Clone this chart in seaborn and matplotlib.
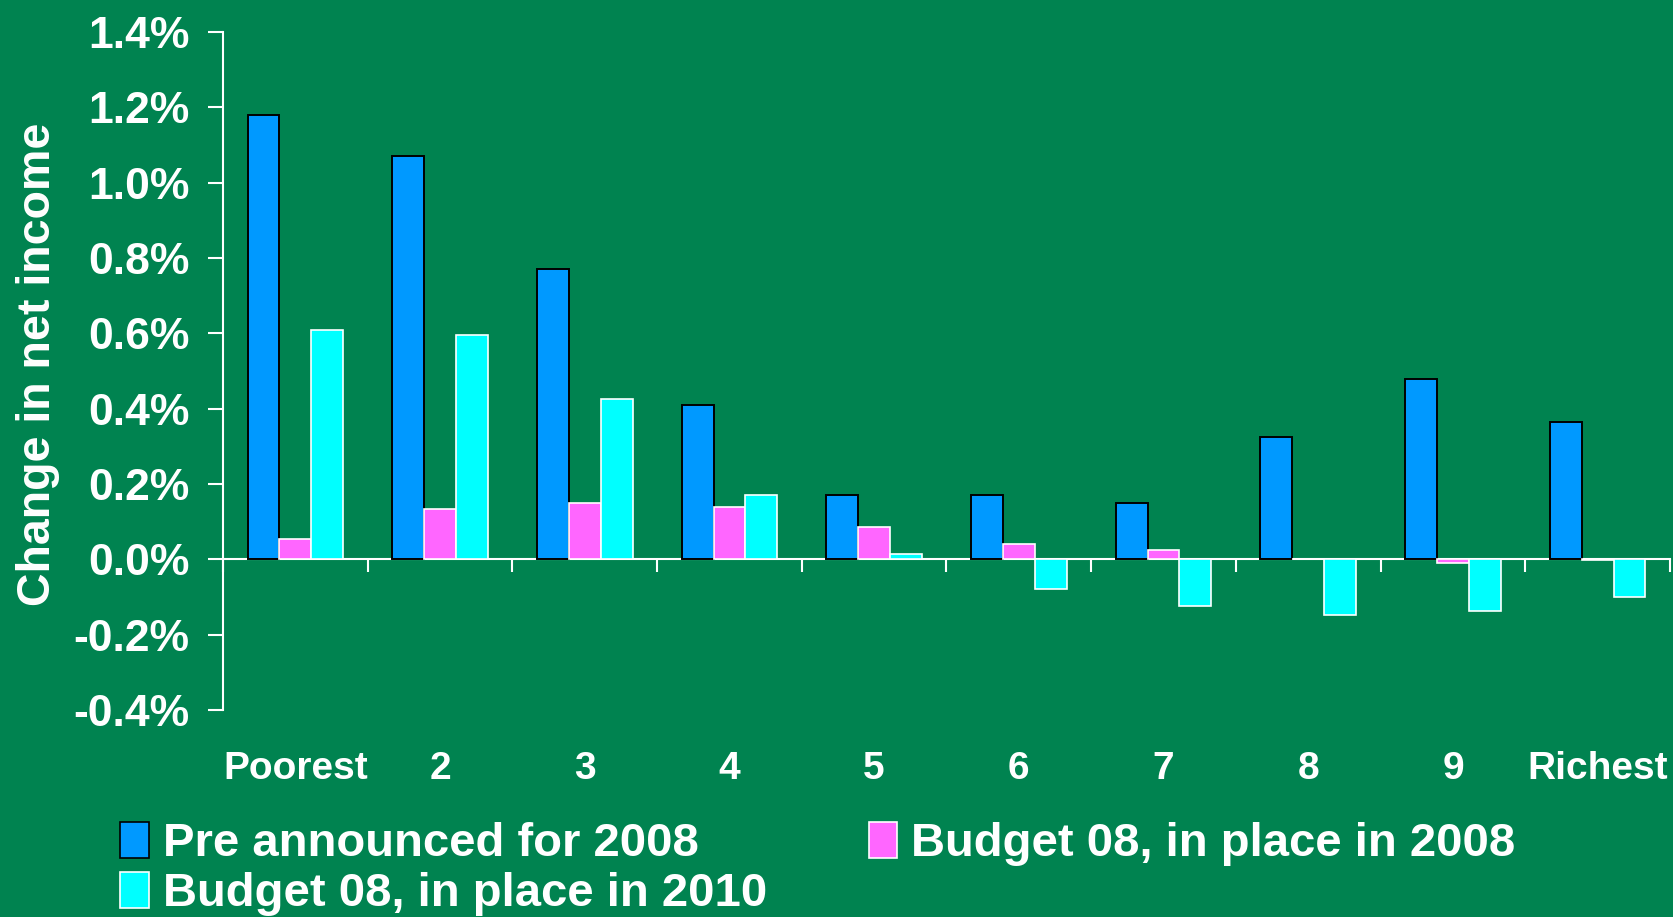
import numpy as np
import pandas as pd
import seaborn as sns
import matplotlib
matplotlib.use('Agg')
import matplotlib.pyplot as plt
from matplotlib.patches import Patch
from matplotlib.ticker import FuncFormatter

# income decile groups
deciles = ['Poorest', '2', '3', '4', '5', '6', '7', '8', '9', 'Richest']
series = ['Pre announced for 2008', 'Budget 08, in place in 2008', 'Budget 08, in place in 2010']

# change in net income (%)
pre_2008 = [1.18, 1.07, 0.77, 0.41, 0.17, 0.17, 0.15, 0.325, 0.48, 0.365]
budget_2008 = [0.055, 0.135, 0.15, 0.14, 0.085, 0.04, 0.025, 0.0, -0.01, -0.003]
budget_2010 = [0.61, 0.595, 0.425, 0.172, 0.015, -0.08, -0.125, -0.148, -0.137, -0.1]

colors = ['#0099FF', '#FF66FF', '#00FFFF']
edges = ['black', 'white', 'white']
bg = '#008350'

df = pd.DataFrame({
    'decile': deciles * 3,
    'change': pre_2008 + budget_2008 + budget_2010,
    'series': [s for s in series for _ in deciles],
})

plt.rcParams['font.family'] = ['Liberation Sans', 'DejaVu Sans']
plt.rcParams['font.weight'] = 'bold'

fig = plt.figure(figsize=(16.73, 9.17), dpi=100, facecolor=bg)
ax = fig.add_axes([0.1333, 0.2257, 0.8649, 0.7394])
ax.set_facecolor(bg)

sns.barplot(data=df, x='decile', y='change', hue='series', palette=colors,
            saturation=1, width=0.66, ax=ax, legend=False, zorder=3)

for cont, ec in zip(ax.containers, edges):
    for bar in cont:
        bar.set_edgecolor(ec)
        bar.set_linewidth(1.4 if ec == 'black' else 1.2)

ax.set_xlim(-0.5, 9.5)
ax.set_ylim(-0.4, 1.4)
ax.set_yticks(np.arange(-0.4, 1.41, 0.2))
ax.yaxis.set_major_formatter(FuncFormatter(lambda v, p: '{:.1f}%'.format(v + 0.0)))

for s in ['top', 'right']:
    ax.spines[s].set_visible(False)
ax.spines['left'].set_color('white')
ax.spines['left'].set_linewidth(1.5)
ax.spines['bottom'].set_position(('data', 0))
ax.spines['bottom'].set_color('white')
ax.spines['bottom'].set_linewidth(1.5)
ax.spines['bottom'].set_zorder(2)

ax.set_xticks(np.arange(-0.5, 10, 1), minor=True)
ax.tick_params(axis='x', which='major', length=0, pad=138, labelsize=28,
               labelcolor='white')
ax.tick_params(axis='x', which='minor', length=9, width=1.5, color='white',
               direction='out')
ax.tick_params(axis='y', length=11, width=1.5, color='white', pad=13,
               labelsize=32, labelcolor='white')
for lab in ax.get_xticklabels() + ax.get_yticklabels():
    lab.set_fontweight('bold')

ax.set_xlabel('')
ax.set_ylabel('Change in net income', fontsize=33.5, fontweight='bold', color='white')
ax.yaxis.set_label_coords(-0.113, 0.51)

handles = [Patch(facecolor=c, edgecolor=e, linewidth=1.2, label=s)
           for c, e, s in zip(colors, edges, series)]
fig.legend(handles=[handles[0], handles[2], handles[1]], ncol=2,
           loc='upper left', bbox_to_anchor=(0.072, 0.104), frameon=False,
           prop={'size': 34, 'weight': 'bold'}, labelcolor='white',
           handlelength=0.6, handleheight=0.8, handletextpad=0.3,
           columnspacing=2.15, labelspacing=0.12, borderpad=0, borderaxespad=0)

fig.savefig('out.png', dpi=100, facecolor=bg)
